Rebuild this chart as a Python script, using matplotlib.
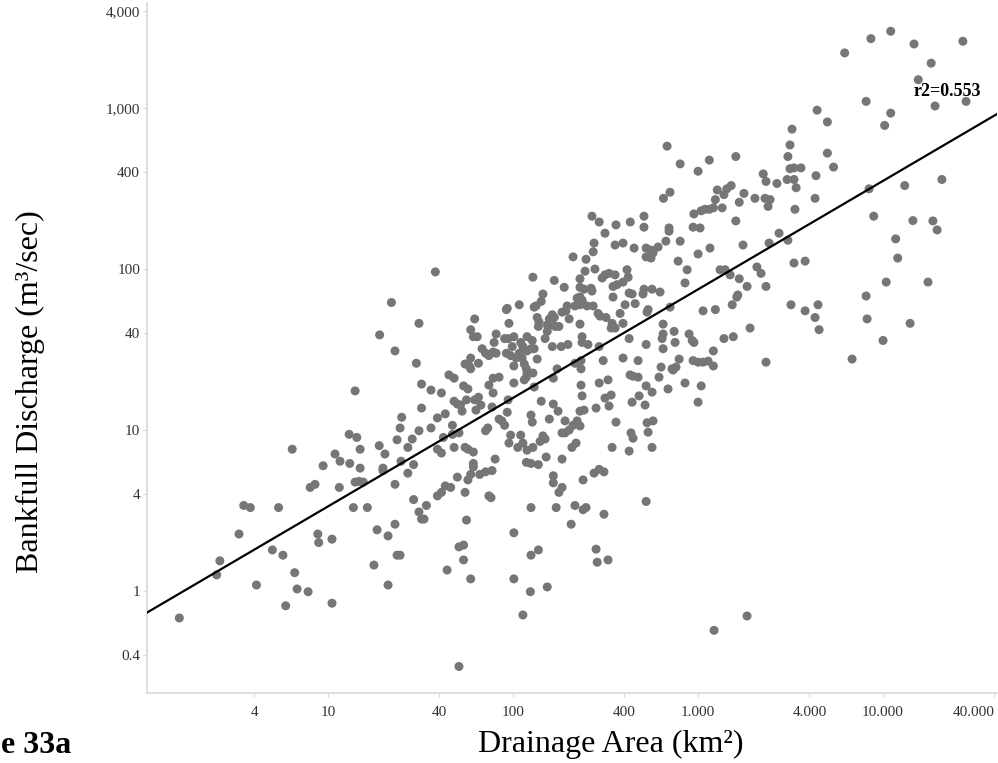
import numpy as np
import matplotlib.pyplot as plt
from matplotlib.ticker import FixedLocator, NullLocator

plt.rcParams['font.family'] = ['Liberation Serif', 'DejaVu Serif']

# drainage area (km2) and bankfull discharge (m3/sec)
area = [
    22, 19, 23, 14, 25, 24.5, 13, 14.3, 23.6, 6.4, 14.9, 18.9, 20.3, 10.9, 11.6, 13.1, 9.4, 14.9,
    19.8, 19.8, 24.8, 14.0, 14.7, 15.5, 8.5, 8.0, 11.5, 23.0, 3.5, 3.8, 5.4, 13.7, 16.3, 3.3,
    8.8, 8.9, 10.5, 18.4, 21.1, 23.0, 2.6, 2.5, 5.0, 5.7, 23.6, 17.7, 6.6, 4.1, 6.8, 7.8, 21.1,
    5.9, 10.5, 1.57,
    267, 292, 360, 314, 274, 356, 271, 211, 248, 277, 245, 38, 303, 314, 330, 356, 128, 167,
    230, 189, 230, 242, 264, 267, 347, 365, 145, 222, 230, 236, 347, 142, 133, 130, 108, 93,
    92, 196, 216, 230, 251, 271, 184, 193, 163, 167, 288, 295, 318, 62, 135, 138, 137, 157,
    163, 169, 153, 177, 201, 95, 31, 230, 343, 339, 356, 393, 59, 153, 81, 61, 64, 236, 90,
    94, 101, 119, 127, 79, 149, 236, 254, 110, 113, 99, 130, 125, 119, 163, 182, 198, 292, 68,
    108, 104, 112, 92, 97, 71, 74, 78, 81, 59, 135, 30, 65, 55, 58, 59, 101, 115, 118, 233,
    216, 307, 173, 233, 45, 48, 119, 128, 115, 118, 78, 84, 101, 165, 233, 292, 326, 32, 74,
    54, 57, 130, 36, 41, 78, 236, 339, 314, 65, 48, 50, 52, 56, 62, 94, 142, 67, 165, 32, 63,
    53, 77, 330, 175, 230, 242, 281, 93, 43, 39, 125, 84, 87, 157, 127, 191, 222, 211, 230,
    201, 191, 360, 47, 36, 31, 73, 71, 90, 97, 110, 145, 184, 42, 28.5,
    47, 51, 95, 113, 106, 119, 128, 140, 149, 219, 208, 343, 27, 39, 41, 48, 55, 57, 61, 80,
    29, 27, 61, 61, 118, 125, 137, 151, 184, 77, 71, 66, 59, 57, 50, 165, 165, 274, 292, 310,
    239, 43, 46, 41, 39, 55, 184, 177, 74, 76, 29, 34, 31, 32, 33, 125, 171, 216, 239, 248,
    310, 206, 56, 101, 51, 54, 54, 125, 137, 281, 285, 326, 24.5, 44, 59, 101, 124, 153, 113,
    51,
    3220, 3140, 3060, 3140, 3300, 3600, 680, 1600, 1150, 800, 1000, 2250, 2330, 2670, 3030,
    3300, 3390, 4340, 1270, 1430, 1510, 1380, 1770, 705, 650, 1240, 1670, 2030, 2300, 2450,
    2390, 4290, 1350, 1210, 1150, 1090, 1040, 950, 3340, 510, 430, 1600, 510, 697, 697, 940,
    1025, 670, 800, 393, 451, 524, 557, 571, 524, 557, 608, 1160, 1000, 1750, 2740, 2420,
    3060, 780, 873, 1315, 1400, 1490, 2080, 2190, 3300, 3790, 413, 419, 393, 850, 1670, 1840,
    2330, 564, 510, 504, 623, 424, 440, 1640, 1620, 403, 457, 706, 537, 530, 1530, 1240, 1064,
    3180, 3790, 4290, 4450, 379, 647, 4510, 1910, 742, 647, 639, 647, 894, 929, 950, 751,
    1550, 1380, 424, 524, 1210, 393, 474, 790, 940, 1000, 1064, 1133, 1210, 2330, 631, 723,
    760, 429, 445, 474, 615,
    733, 850, 1040, 688, 524, 564, 480, 440, 517, 1000, 530, 571, 434, 445, 537, 424, 564,
    524, 1840, 1220,
    11000, 8600, 14700, 27000, 6200, 18200, 15500, 8100, 19100, 28100, 4400, 11000, 5000,
    10200, 5000, 5400, 8400, 13100, 20800, 8900, 14500, 18600, 19600, 11700,
    12000, 10400, 17500, 8100, 8200, 14000, 10000, 6800,
]
discharge = [
    62, 39, 31, 17.5, 12, 10.3, 9.4, 9.0, 8.7, 7.6, 7.6, 8.0, 7.1, 7.1, 6.4, 6.2, 6.0, 5.8,
    5.8, 5.6, 6.4, 4.75, 4.8, 4.75, 4.6, 4.4, 4.4, 4.6, 3.4, 3.3, 3.3, 3.3, 3.3, 2.26,
    2.26, 2.0, 2.1, 2.4, 2.2, 2.6, 1.54, 1.26, 1.8, 1.67, 1.67, 1.45, 1.3, 1.09, 1.03, 0.99, 1.09,
    0.81, 0.84, 0.68,
    213, 196, 188, 167, 145, 141, 128, 119, 115, 100, 97, 96, 88, 92, 94, 92, 89, 85,
    87, 77, 77, 75, 76, 73, 78, 80, 70, 66, 67, 64, 67, 63, 59, 58, 60, 57,
    56, 59, 59, 60, 59, 59, 54, 55, 52, 50, 53, 51, 50, 49, 50, 47, 44, 49,
    45, 44, 45, 44, 49, 46, 46, 45.5, 46, 43, 43, 46, 42, 41, 39.5, 38, 38, 38, 37,
    37, 38, 38, 36, 35, 37, 35, 34, 35, 33, 33, 32, 32, 31, 33, 33, 34, 33, 32,
    30, 28, 28, 30, 29, 30, 29, 30.5, 30, 28, 27.6, 26, 26, 25.7, 25, 24, 25, 25.7, 24, 27,
    26, 27, 24, 24, 22, 21, 22.6, 22.6, 20.5, 21.3, 21, 21.3, 19.6, 21, 19, 19.6, 20.5, 19.3, 19,
    18.8, 18, 18.5, 17.7, 17, 17, 16.3, 16.5, 15.8, 16, 15.1, 14.5, 14.3, 15.4, 15.4, 15.4, 15.1, 14.3, 14.5, 13.7, 13.3,
    13.1, 13.9, 14.1, 13.1, 13.1, 13.3, 13.7, 12.9, 12.6, 11.9, 12.4, 11.7, 11.4, 11.7, 11.2, 11.4, 11.4, 10.7, 10.6,
    10, 9.6, 11.2, 10.7, 10.3, 9.9, 10.3, 9.9, 10.7, 9.3, 9.3, 9.2, 9.6, 9.0, 8.8,
    9.4, 9.6, 8.3, 8.3, 7.8, 7.5, 7.8, 8.5, 8.8, 8.3, 7.8, 7.8, 7.8, 7.6, 7.2, 7.8, 7.8, 7.6, 7.3, 6.6,
    6.1, 5.4, 6.2, 5.9, 6.3, 6.2, 6.1, 6.8, 6.6, 5.6, 5.5, 5.3, 5.3, 4.9, 5.1, 5.2, 4.7, 5.4, 5.7, 5.5,
    4.9, 4.5, 4.4, 4.1, 3.9, 4.1, 4.4, 4.1, 3.9, 3.8, 3.7, 3.4, 3.1, 2.8, 2.8, 3.3, 3.3, 3.4, 3.2, 3.3,
    3.0, 2.6, 2.76, 2.3, 1.88, 1.93, 1.56, 1.67, 1.8, 1.82, 1.51, 1.56, 1.67, 1.35, 1.19, 1.19, 0.99, 1.06, 0.71,
    0.34,
    740, 590, 500, 420, 425, 425, 580, 500, 475, 450, 405, 390, 350, 340, 360,
    360, 320, 380, 310, 315, 330, 290, 295, 300, 275, 270, 260, 275, 275, 270,
    245, 275, 240, 240, 235, 235, 230, 220, 235, 213, 196, 199, 182, 180, 172, 182,
    180, 149, 149, 145, 135, 135, 131, 126, 119, 117, 137, 135, 124, 141, 167, 145,
    151, 112, 99, 99, 99, 92, 103, 94, 109, 112, 99, 89, 83, 82, 87, 78,
    78, 75, 75, 70, 72, 71, 70, 69, 67, 60, 61, 58, 56, 54, 60, 56, 55,
    60, 55, 50, 60, 53, 45.5, 42, 43, 41, 39.5, 37, 32, 39.5, 36, 35, 35,
    38, 37, 37, 34, 31, 28, 27, 27.6, 27, 26.4, 26.4, 26.8, 25, 26.4, 24.6, 24,
    24.6, 22, 21.6, 21.3, 21.3,
    23.6, 19.6, 18.8, 18, 18.8, 17.2, 16.3, 14.9, 14.3, 14.9, 11.1, 11.4, 9.6, 8.9, 9.7, 7.4, 7.8,
    3.6, 0.70, 0.57,
    3000, 2700, 2500, 2600, 2200, 1900, 1500, 1100, 1030, 1100, 970, 930, 820,
    780, 525, 430, 315, 330, 360, 213, 200, 199, 175, 154,
    117, 83, 83, 68, 49, 46, 36, 27.6,
]

# fitted power law drawn on the chart: Q = coef * A ** slope
fit_coef = 0.711
fit_slope = 0.674
r2_label = 'r2=0.553'

x_ticks = [4, 10, 40, 100, 400, 1000, 4000, 10000, 40000]
x_tick_labels = ['4', '10', '40', '100', '400', '1.000', '4.000', '10.000', '40.000']
y_ticks = [0.4, 1, 4, 10, 40, 100, 400, 1000, 4000]
y_tick_labels = ['0.4', '1', '4', '10', '40', '100', '400', '1,000', '4,000']

fig = plt.figure(figsize=(9.98, 7.63), dpi=100)
ax = fig.add_axes([0.1473, 0.0917, 0.8517, 0.9043])
ax.set_xscale('log')
ax.set_yscale('log')
ax.set_xlim(1.05, 41300)
ax.set_ylim(0.2325, 4490)

ax.scatter(area, discharge, s=42, color='#767676', edgecolors='none', zorder=2)

xs = np.logspace(np.log10(1.05), np.log10(41300), 50)
ax.plot(xs, fit_coef * xs ** fit_slope, color='black', lw=1.6, zorder=3)

for side in ['top', 'right']:
    ax.spines[side].set_visible(False)
for side in ['left', 'bottom']:
    ax.spines[side].set_color('#d9d9d9')
    ax.spines[side].set_linewidth(1.2)

ax.xaxis.set_major_locator(FixedLocator(x_ticks))
ax.yaxis.set_major_locator(FixedLocator(y_ticks))
ax.xaxis.set_minor_locator(NullLocator())
ax.yaxis.set_minor_locator(NullLocator())
ax.set_xticklabels(x_tick_labels)
ax.set_yticklabels(y_tick_labels)
ax.tick_params(axis='both', length=3, width=0.8, color='#d9d9d9',
               labelsize=11, labelcolor='#333333')
ax.tick_params(axis='x', pad=6)
ax.tick_params(axis='y', pad=2)
# last x label sits flush against the right edge
ax.get_xticklabels()[-1].set_horizontalalignment('right')

fig.text(914 / 998, 1 - 91 / 763, r2_label, ha='left', va='center',
         fontsize=13, fontweight='bold')
fig.text(611 / 998, 1 - 744 / 763, 'Drainage Area (km²)', ha='center', va='center',
         fontsize=23)
fig.text(30 / 998, 1 - 392 / 763, 'Bankfull Discharge (m³/sec)', ha='center', va='center',
         rotation=90, fontsize=23)
fig.text(1 / 998, 1 - 753 / 763, 'e 33a', ha='left', va='baseline',
         fontsize=23, fontweight='bold')

fig.savefig('out.png', dpi=100)
